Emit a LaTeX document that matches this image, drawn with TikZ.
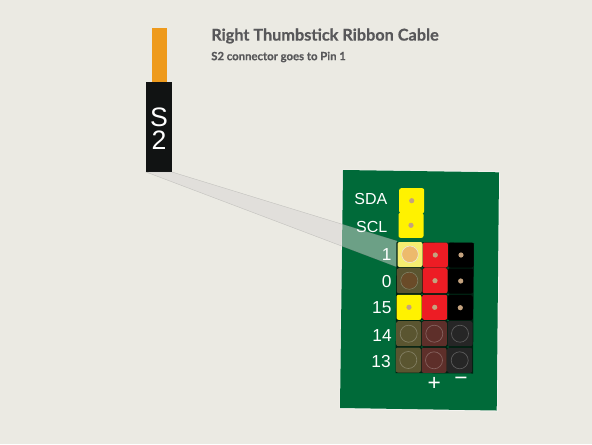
\documentclass[tikz,border=0pt]{standalone}
\usepackage{fontspec}
\setmainfont{Liberation Sans}
\newfontfamily\titlefont[BoldFeatures={FakeBold=0.6}]{Lato}
\definecolor{paper}{HTML}{EBEAE3}
\definecolor{board}{HTML}{006A39}
\definecolor{ribbon}{HTML}{EE9A1C}
\definecolor{plug}{HTML}{111313}
\definecolor{pinyellow}{HTML}{FFF200}
\definecolor{pinred}{HTML}{ED1C24}
\definecolor{pinhole}{HTML}{C4A27E}
\definecolor{titlegray}{HTML}{58585A}
\definecolor{wedge}{HTML}{D8D6D4}
\definecolor{dimyellow}{HTML}{5A5530}
\definecolor{dimred}{HTML}{5E2F2A}
\definecolor{dimblack}{HTML}{262626}
\definecolor{dimorange}{HTML}{6A4B28}
\tikzset{
  pinlabel/.style={text=white, font=\fontsize{12}{14}\selectfont, anchor=east, inner sep=0pt},
  numlabel/.style={pinlabel, font=\fontsize{13}{15}\selectfont},
  pinfill/.style={rounded corners=1.5pt}
}
% one live pin: centre, colour
\newcommand{\livepin}[2]{
  \fill[#2, pinfill] (#1) +(-12.5,-12.5) rectangle +(12.5,12.5);
  \fill[pinhole] (#1) circle (2.6);
}
% one dimmed pin: centre, colour
\newcommand{\dimpin}[2]{
  \fill[#2, pinfill] (#1) +(-12.5,-12.5) rectangle +(12.5,12.5);
  \draw[white, opacity=0.25, line width=0.5pt] (#1) circle (8.5);
}
\begin{document}
\begin{tikzpicture}[x=0.75pt, y=-0.75pt]
  \useasboundingbox (0,0) rectangle (592,444);
  \fill[paper] (0,0) rectangle (592,444);

  % Title
  \node[anchor=west, inner sep=0pt, text=titlegray, font=\titlefont\bfseries\fontsize{12.2}{15}\selectfont] (title) at (211,36) {Right Thumbstick Ribbon Cable};
  \node[anchor=west, inner sep=0pt, text=titlegray, font=\titlefont\bfseries\fontsize{8.5}{10}\selectfont] (subtitle) at (211,57) {S2 connector goes to Pin 1};

  % Ribbon and plug
  \fill[ribbon] (151.5,28) rectangle (166.5,82);
  \fill[plug] (146,82) rectangle (172,172);
  \node[text=white, inner sep=0pt, align=center, font=\fontsize{20}{17}\selectfont] (plugname) at (159,129) {S\\2};

  % Board
  \fill[white, opacity=0.5] (342,169.5) -- (500,171.5) -- (497.5,411.5) -- (339.5,409) -- cycle;
  \fill[board] (343,170) -- (499,172.3) -- (496.7,410.5) -- (340,408) -- cycle;

  % Callout wedge from the plug to pin 1
  \fill[wedge, opacity=0.5] (146,172) -- (172,172) -- (397,241) -- (397,267) -- cycle;
  \draw[gray, opacity=0.35, line width=0.3pt] (397,267) -- (146,172) -- (172,172) -- (397,241);

  % Signal labels
  \node[pinlabel] (sda) at (387.5,199) {SDA};
  \node[pinlabel] (scl) at (387.5,226.7) {SCL};
  \node[numlabel] (one) at (391.7,254.5) {1};
  \node[numlabel] (zero) at (391.7,282) {0};
  \node[numlabel] (fifteen) at (391.7,308) {15};
  \node[numlabel] (fourteen) at (392,335.7) {14};
  \node[numlabel] (thirteen) at (391,361.7) {13};
  \node[text=white, inner sep=0pt, font=\fontsize{17}{19}\selectfont] (plus) at (434.3,384.3) {+};
  \node[text=white, inner sep=0pt, font=\fontsize{17}{19}\selectfont] (minus) at (461,381.7) {\textminus};

  % Dark frame behind the pin rows
  \fill[black!70!board] (396.5,242) -- (474,243) -- (473,373.5) -- (395.5,373) -- cycle;
  \foreach \y in {268,294.5,320.5,347} \fill[board] (422,\y) circle (0.9) (448,\y) circle (0.9);

  % Live pins
  \livepin{411.7,200.7}{pinyellow}
  \livepin{411,225.3}{pinyellow}
  \livepin{435.3,255}{pinred}
  \livepin{461,255}{black}
  \livepin{435,280.7}{pinred}
  \livepin{460.7,281}{black}
  \livepin{409,307.3}{pinyellow}
  \livepin{434.7,307.3}{pinred}
  \livepin{460.3,307.7}{black}

  % Dimmed pins
  \dimpin{409.3,280.7}{dimyellow}
  \dimpin{408.7,333.7}{dimyellow}
  \dimpin{434.3,333.7}{dimred}
  \dimpin{460,333.7}{dimblack}
  \dimpin{408.3,360}{dimyellow}
  \dimpin{434,360.3}{dimred}
  \dimpin{459.7,360.3}{dimblack}
  \fill[dimorange] (409.3,280.7) circle (8);

  % Pin 1, highlighted
  \fill[pinyellow!50!paper, pinfill] (397.5,242) rectangle (422.5,267);
  \fill[ribbon!60!paper, draw=paper] (410,254.3) circle (8.3);
\end{tikzpicture}
\end{document}
